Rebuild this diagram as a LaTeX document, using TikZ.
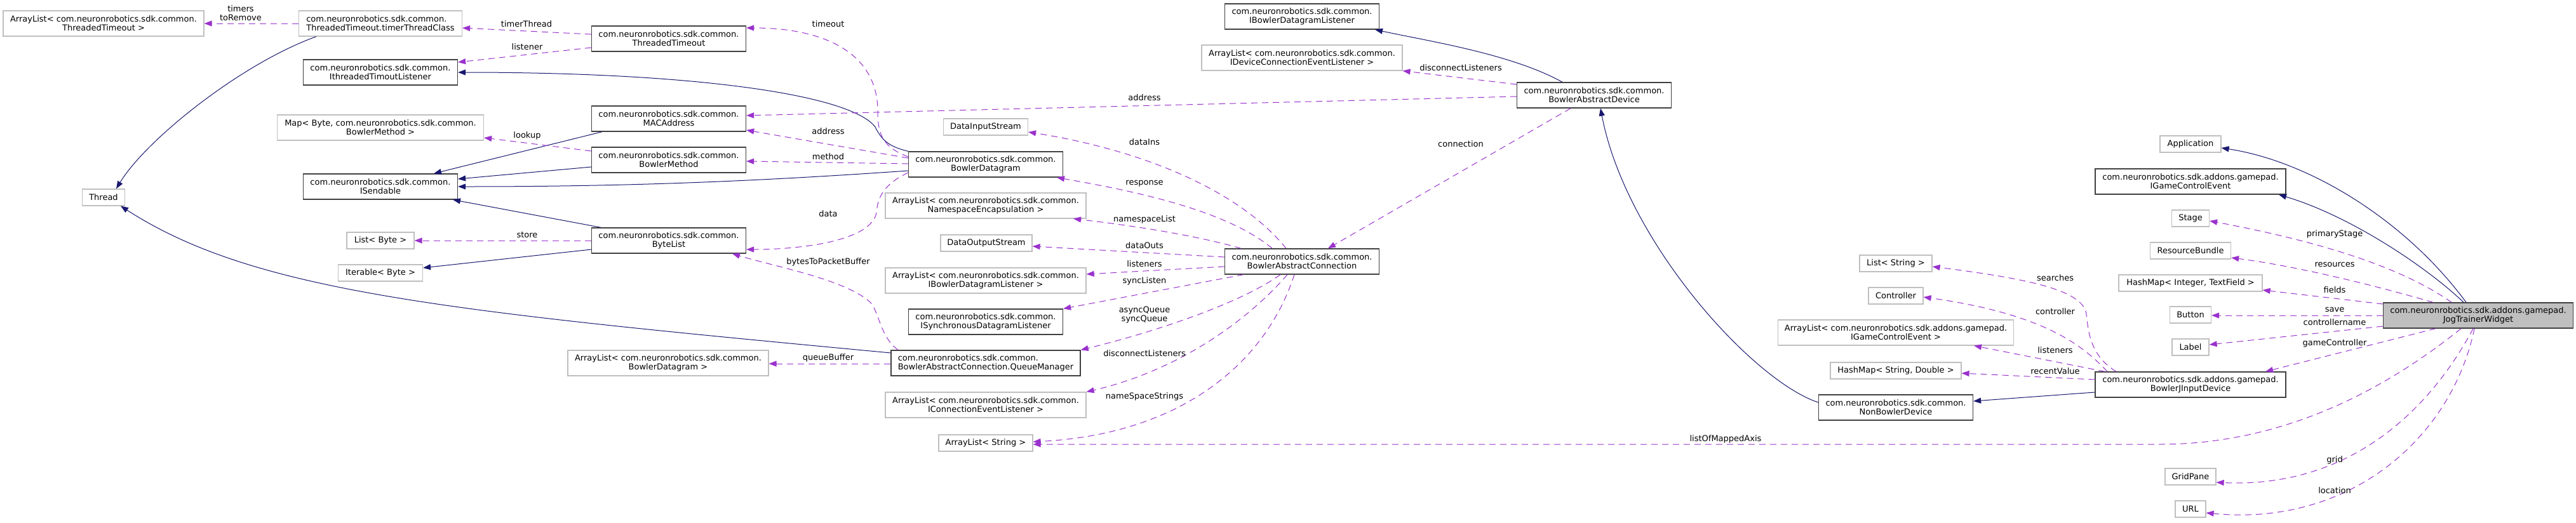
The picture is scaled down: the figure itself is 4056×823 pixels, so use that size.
\documentclass[tikz,border=0pt]{standalone}
\usepackage{fontspec}
\setmainfont{DejaVu Sans}
\usetikzlibrary{arrows.meta}
\definecolor{edgeblue}{HTML}{191970}
\definecolor{edgepurple}{HTML}{9A32CD}
\definecolor{boxdark}{HTML}{404040}
\definecolor{boxlight}{HTML}{BFBFBF}
\tikzset{
  base/.style={align=center, inner sep=1pt, fill=white, font=\fontsize{13}{14}\selectfont},
  cls/.style={base, draw=boxdark, line width=1.3pt, minimum height=40pt},
  ext/.style={base, draw=boxlight, line width=1.2pt, minimum height=40pt},
  ext1/.style={base, draw=boxlight, line width=1.2pt, minimum height=26pt},
  cur/.style={cls, fill=boxlight},
  lbl/.style={inner sep=0pt, align=center, font=\fontsize{13}{14}\selectfont},
  inh/.style={draw=edgeblue, line width=1pt, -{Triangle[length=12pt,width=9pt]}},
  uses/.style={draw=edgepurple, line width=1pt, dash pattern=on 10pt off 7pt, -{Triangle[length=12pt,width=9pt]}}
}
\begin{document}
\begin{tikzpicture}[x=1pt,y=-1pt]
\useasboundingbox (0,0) rectangle (4056,823);
% ---------- nodes ----------
\node[ext, minimum width=316pt] (arrTT) at (163,37) {ArrayList< com.neuronrobotics.sdk.common.\\ThreadedTimeout >};
\node[ext, minimum width=257pt, align=left] (timerTC) at (599,37) {com.neuronrobotics.sdk.common.\\ThreadedTimeout.timerThreadClass};
\node[cls, minimum width=243pt] (ITL) at (599,114) {com.neuronrobotics.sdk.common.\\IthreadedTimoutListener};
\node[ext, minimum width=325pt] (mapBM) at (599,201) {Map< Byte, com.neuronrobotics.sdk.common.\\BowlerMethod >};
\node[cls, minimum width=243pt] (ISend) at (599,294) {com.neuronrobotics.sdk.common.\\ISendable};
\node[ext1, minimum width=67pt] (thread) at (163,311) {Thread};
\node[ext1, minimum width=106pt] (listByte) at (599,379) {List< Byte >};
\node[ext1, minimum width=133pt] (iterByte) at (599,430) {Iterable< Byte >};
\node[cls, minimum width=243pt] (TT) at (1053,61) {com.neuronrobotics.sdk.common.\\ThreadedTimeout};
\node[cls, minimum width=243pt] (MAC) at (1053,187) {com.neuronrobotics.sdk.common.\\MACAddress};
\node[cls, minimum width=243pt] (BM) at (1053,252) {com.neuronrobotics.sdk.common.\\BowlerMethod};
\node[cls, minimum width=243pt] (BL) at (1053,379) {com.neuronrobotics.sdk.common.\\ByteList};
\node[ext, minimum width=316pt] (arrBD) at (1052,572) {ArrayList< com.neuronrobotics.sdk.common.\\BowlerDatagram >};
\node[cls, minimum width=243pt] (IBDL) at (2050,26) {com.neuronrobotics.sdk.common.\\IBowlerDatagramListener};
\node[ext, minimum width=316pt] (arrIDCEL) at (2050,91) {ArrayList< com.neuronrobotics.sdk.common.\\IDeviceConnectionEventListener >};
\node[ext1, minimum width=133pt] (DIS) at (1552,200) {DataInputStream};
\node[cls, minimum width=243pt] (BD) at (1552,259) {com.neuronrobotics.sdk.common.\\BowlerDatagram};
\node[ext, minimum width=316pt] (arrNE) at (1552,324) {ArrayList< com.neuronrobotics.sdk.common.\\NamespaceEncapsulation >};
\node[ext1, minimum width=144pt] (DOS) at (1553,383) {DataOutputStream};
\node[cls, minimum width=243pt] (BAC) at (2050,412) {com.neuronrobotics.sdk.common.\\BowlerAbstractConnection};
\node[ext, minimum width=316pt] (arrIBDL) at (1552,442) {ArrayList< com.neuronrobotics.sdk.common.\\IBowlerDatagramListener >};
\node[cls, minimum width=243pt] (ISDL) at (1552,507) {com.neuronrobotics.sdk.common.\\ISynchronousDatagramListener};
\node[cls, minimum width=298pt, align=left] (QM) at (1552,572) {com.neuronrobotics.sdk.common.\\BowlerAbstractConnection.QueueManager};
\node[ext, minimum width=316pt] (arrICEL) at (1552,638) {ArrayList< com.neuronrobotics.sdk.common.\\IConnectionEventListener >};
\node[ext1, minimum width=148pt] (arrStr) at (1552,698) {ArrayList< String >};
\node[cls, minimum width=243pt] (BAD) at (2510,150) {com.neuronrobotics.sdk.common.\\BowlerAbstractDevice};
\node[ext1, minimum width=96pt] (app) at (3449,227) {Application};
\node[cls, minimum width=300pt] (IGCE) at (3449,286) {com.neuronrobotics.sdk.addons.gamepad.\\IGameControlEvent};
\node[ext1, minimum width=59pt] (stage) at (3449,344) {Stage};
\node[ext1, minimum width=127pt] (RB) at (3449,395) {ResourceBundle};
\node[ext1, minimum width=114pt] (listStr) at (2985,415) {List< String >};
\node[ext1, minimum width=226pt] (hmIT) at (3449,446) {HashMap< Integer, TextField >};
\node[ext1, minimum width=86pt] (ctrl) at (2985,466) {Controller};
\node[ext, minimum width=371pt] (arrIGCE) at (2985,524) {ArrayList< com.neuronrobotics.sdk.addons.gamepad.\\IGameControlEvent >};
\node[ext1, minimum width=206pt] (hmSD) at (2985,584) {HashMap< String, Double >};
\node[cls, minimum width=300pt] (BJD) at (3449,606) {com.neuronrobotics.sdk.addons.gamepad.\\BowlerJInputDevice};
\node[cls, minimum width=243pt] (NBD) at (2985,642) {com.neuronrobotics.sdk.common.\\NonBowlerDevice};
\node[ext1, minimum width=65pt] (button) at (3449,496) {Button};
\node[ext1, minimum width=58pt] (label) at (3449,547) {Label};
\node[ext1, minimum width=80pt] (grid) at (3449,751) {GridPane};
\node[ext1, minimum width=48pt] (url) at (3449,802) {URL};
\node[cur, minimum width=299pt] (JTW) at (3902,497) {com.neuronrobotics.sdk.addons.gamepad.\\JogTrainerWidget};
% ---------- inheritance ----------
\draw[inh] (timerTC.south -| 498,0) .. controls (380,100) and (230,220) .. (thread.north -| 183,0);
\draw[inh] (QM.west |- 0,556) .. controls (700,490) and (400,460) .. (thread.south -| 190,0);
\draw[inh] (BD.north west) .. controls (1405,232) and (1390,225) .. (1378,200) .. controls (1340,150) and (1100,114) .. (ITL.east);
\draw[inh] (MAC.south -| 948,0) -- (ISend.north -| 683,0);
\draw[inh] (BM.west |- 0,263) -- (ISend.east |- 0,282);
\draw[inh] (BD.west |- 0,269) .. controls (1200,285) and (1000,294) .. (ISend.east |- 0,294);
\draw[inh] (BL.north -| 946,0) -- (ISend.south -| 713,0);
\draw[inh] (BL.west |- 0,393) -- (iterByte.east |- 0,422);
\draw[inh] (BAD.north -| 2460,0) .. controls (2380,85) and (2250,65) .. (IBDL.south -| 2165,0);
\draw[inh] (NBD.west |- 0,634) .. controls (2760,600) and (2560,380) .. (BAD.south -| 2520,0);
\draw[inh] (BJD.west |- 0,618) -- (NBD.east |- 0,632);
\draw[inh] (JTW.north -| 3883,0) .. controls (3790,350) and (3640,255) .. (app.east |- 0,233);
\draw[inh] (JTW.north -| 3879,0) .. controls (3820,420) and (3700,340) .. (IGCE.south -| 3588,0);
% ---------- usage ----------
\draw[uses] (timerTC.west) -- (arrTT.east);
\draw[uses] (TT.west |- 0,54) -- (timerTC.east |- 0,44);
\draw[uses] (TT.west |- 0,75) -- (ITL.east |- 0,98);
\draw[uses] (BD.west |- 0,247) .. controls (1390,232) and (1382,212) .. (1382,175) .. controls (1382,85) and (1300,44) .. (TT.east |- 0,44);
\draw[uses] (BD.west |- 0,249) -- (MAC.east |- 0,205);
\draw[uses] (BD.west |- 0,258) -- (BM.east |- 0,254);
\draw[uses] (BM.west |- 0,238) -- (mapBM.east |- 0,217);
\draw[uses] (BL.west) -- (listByte.east);
\draw[uses] (BD.west |- 0,272) .. controls (1392,290) and (1382,310) .. (1380,335) .. controls (1372,380) and (1260,393) .. (BL.east |- 0,393);
\draw[uses] (QM.north -| 1414,0) .. controls (1385,530) and (1385,492) .. (1370,476) .. controls (1330,440) and (1220,420) .. (BL.south -| 1153,0);
\draw[uses] (QM.west |- 0,573) -- (arrBD.east |- 0,573);
\draw[uses] (BAC.north -| 2025,0) .. controls (1960,310) and (1820,240) .. (DIS.east |- 0,208);
\draw[uses] (BAC.north -| 2003,0) .. controls (1930,330) and (1780,300) .. (BD.south -| 1664,0);
\draw[uses] (BAC.north -| 1954,0) .. controls (1880,370) and (1780,355) .. (arrNE.south -| 1690,0);
\draw[uses] (BAC.west |- 0,405) -- (DOS.east |- 0,388);
\draw[uses] (BAC.west |- 0,420) -- (arrIBDL.east |- 0,432);
\draw[uses] (BAC.south -| 1958,0) -- (ISDL.north east);
\draw[uses] (BAC.south -| 2016,0) .. controls (1950,480) and (1810,525) .. (QM.north east);
\draw[uses] (BAC.south -| 2027,0) .. controls (1960,510) and (1850,585) .. (arrICEL.north east);
\draw[uses] (BAC.south -| 2038,0) .. controls (1990,580) and (1850,685) .. (arrStr.east |- 0,696);
\draw[uses] (JTW.south -| 3875,0) .. controls (3760,610) and (3600,700) .. (3400,700) -- (arrStr.east |- 0,700);
\draw[uses] (BAD.west |- 0,133) -- (arrIDCEL.south east);
\draw[uses] (BAD.west |- 0,152) -- (MAC.east |- 0,182);
\draw[uses] (BAD.south -| 2473,0) -- (BAC.north -| 2091,0);
\draw[uses] (BJD.north -| 3332,0) .. controls (3290,560) and (3288,520) .. (3285,495) .. controls (3280,458) and (3200,440) .. (listStr.east |- 0,420);
\draw[uses] (BJD.north -| 3318,0) .. controls (3280,545) and (3220,495) .. (ctrl.east |- 0,468);
\draw[uses] (BJD.north -| 3314,0) -- (arrIGCE.south -| 3108,0);
\draw[uses] (BJD.west |- 0,598) -- (hmSD.east |- 0,588);
\draw[uses] (JTW.north -| 3860,0) .. controls (3780,420) and (3650,380) .. (stage.east |- 0,348);
\draw[uses] (JTW.north -| 3831,0) .. controls (3740,450) and (3620,420) .. (RB.east |- 0,406);
\draw[uses] (JTW.west |- 0,479) -- (hmIT.east |- 0,457);
\draw[uses] (JTW.west |- 0,497) -- (button.east |- 0,497);
\draw[uses] (JTW.west |- 0,514) -- (label.east |- 0,543);
\draw[uses] (JTW.south -| 3835,0) -- (BJD.north -| 3567,0);
\draw[uses] (JTW.south -| 3894,0) .. controls (3840,620) and (3720,770) .. (grid.east |- 0,760);
\draw[uses] (JTW.south -| 3896,0) .. controls (3860,690) and (3700,830) .. (url.east |- 0,808);
% ---------- labels ----------
\node[lbl] (l1) at (379,21) {timers\\toRemove};
\node[lbl] (l2) at (829,38) {timerThread};
\node[lbl] (l3) at (830,74) {listener};
\node[lbl] (l4) at (1304,38) {timeout};
\node[lbl] (l5) at (830,214) {lookup};
\node[lbl] (l6) at (1304,207) {address};
\node[lbl] (l7) at (1304,247) {method};
\node[lbl] (l8) at (830,370) {store};
\node[lbl] (l9) at (1304,337) {data};
\node[lbl] (l10) at (1304,413) {bytesToPacketBuffer};
\node[lbl] (l11) at (1304,564) {queueBuffer};
\node[lbl] (l12) at (1802,154) {address};
\node[lbl] (l13) at (1802,224) {dataIns};
\node[lbl] (l14) at (1802,289) {response};
\node[lbl] (l15) at (1802,346) {namespaceList};
\node[lbl] (l16) at (1802,387) {dataOuts};
\node[lbl] (l17) at (1802,416) {listeners};
\node[lbl] (l18) at (1802,443) {syncListen};
\node[lbl] (l19) at (1802,496) {asyncQueue\\syncQueue};
\node[lbl] (l20) at (1802,557) {disconnectListeners};
\node[lbl] (l21) at (1802,625) {nameSpaceStrings};
\node[lbl] (l22) at (2300,107) {disconnectListeners};
\node[lbl] (l23) at (2300,227) {connection};
\node[lbl] (l24) at (2717,692) {listOfMappedAxis};
\node[lbl] (l25) at (3236,438) {searches};
\node[lbl] (l26) at (3236,491) {controller};
\node[lbl] (l27) at (3236,552) {listeners};
\node[lbl] (l28) at (3236,585) {recentValue};
\node[lbl] (l29) at (3676,369) {primaryStage};
\node[lbl] (l30) at (3676,417) {resources};
\node[lbl] (l31) at (3676,457) {fields};
\node[lbl] (l32) at (3676,488) {save};
\node[lbl] (l33) at (3676,508) {controllername};
\node[lbl] (l34) at (3676,541) {gameController};
\node[lbl] (l35) at (3676,725) {grid};
\node[lbl] (l36) at (3676,773) {location};
\end{tikzpicture}
\end{document}
